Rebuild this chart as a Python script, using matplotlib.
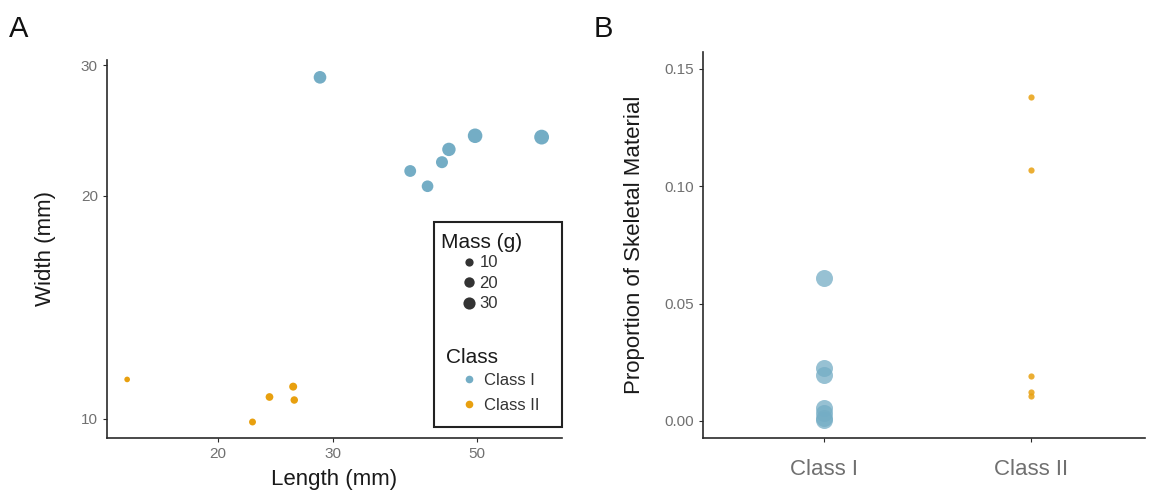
import matplotlib.pyplot as plt
import matplotlib.ticker as mticker
from matplotlib.lines import Line2D
from matplotlib.patches import Rectangle
import numpy as np

plt.rcParams['font.family'] = ['Liberation Sans', 'DejaVu Sans']

# panel A data
c1_length = [28.7, 39.5, 42.0, 44.2, 45.3, 49.7, 62.9]
c1_width = [28.9, 21.6, 20.6, 22.2, 23.1, 24.1, 24.0]
c1_mass = [33, 28, 27, 29, 38, 46, 48]
c2_length = [14.5, 22.6, 24.0, 26.1, 26.2]
c2_width = [11.3, 9.9, 10.7, 11.05, 10.6]
c2_mass = [1, 5, 8, 9, 7]

# panel B data
classes = ['Class I', 'Class II']
c1_prop = [0.061, 0.0225, 0.0196, 0.0055, 0.0034, 0.0013, 0.0002]
c2_prop = [0.138, 0.107, 0.0192, 0.0125, 0.0105]

mass_breaks = [10, 20, 30]

blue = '#74ADC5'
orange = '#E8A00F'
tick_col = '#707070'
spine_col = '#2a2a2a'


def msize(m):
    # ggplot-like area scaling, in points^2
    return (28 + 4 * np.asarray(m, dtype=float)) / 1.93


fig = plt.figure(figsize=(11.49, 4.93), dpi=100)
axA = fig.add_axes([0.0931, 0.1116, 0.3960, 0.7667])
axB = fig.add_axes([0.6118, 0.1116, 0.3847, 0.7830])

for ax in (axA, axB):
    for s in ['top', 'right']:
        ax.spines[s].set_visible(False)
    for s in ['left', 'bottom']:
        ax.spines[s].set_color(spine_col)
        ax.spines[s].set_linewidth(1.2)
    ax.tick_params(colors=spine_col, length=3, width=0.8, labelcolor=tick_col)

# ---- A ----
axA.scatter(c1_length, c1_width, s=msize(c1_mass), color=blue, linewidths=0, zorder=3)
axA.scatter(c2_length, c2_width, s=msize(c2_mass), color=orange, linewidths=0, zorder=3)
axA.set_xscale('log')
axA.set_yscale('log')
axA.set_xlim(13.5, 67.6)
axA.set_ylim(9.42, 30.5)
axA.xaxis.set_major_locator(mticker.FixedLocator([20, 30, 50]))
axA.yaxis.set_major_locator(mticker.FixedLocator([10, 20, 30]))
axA.xaxis.set_minor_locator(mticker.NullLocator())
axA.yaxis.set_minor_locator(mticker.NullLocator())
axA.xaxis.set_major_formatter(mticker.FormatStrFormatter('%d'))
axA.yaxis.set_major_formatter(mticker.FormatStrFormatter('%d'))
axA.tick_params(labelsize=11)
axA.set_xlabel('Length (mm)', fontsize=16, color='#1a1a1a', labelpad=6)
axA.set_ylabel('Width (mm)', fontsize=16, color='#1a1a1a', labelpad=18)

# legend (two blocks inside one frame)
mass_handles = [Line2D([], [], ls='', marker='o', color='#333333',
                       markersize=np.sqrt(msize(m)), markeredgewidth=0)
                for m in mass_breaks]
leg1 = axA.legend(mass_handles, [str(m) for m in mass_breaks],
                  loc='upper left', bbox_to_anchor=(0.778, 0.483),
                  frameon=False, fontsize=12, borderpad=0, borderaxespad=0,
                  handlelength=1.0, handletextpad=0.1, labelspacing=0.33,
                  labelcolor='#333333')
axA.add_artist(leg1)
class_handles = [Line2D([], [], ls='', marker='o', color=c, markersize=5.5,
                        markeredgewidth=0) for c in (blue, orange)]
leg2 = axA.legend(class_handles, classes, loc='upper left',
                  bbox_to_anchor=(0.778, 0.173), frameon=False, fontsize=12,
                  borderpad=0, borderaxespad=0, handlelength=1.0,
                  handletextpad=0.4, labelspacing=0.63, labelcolor='#333333')
axA.text(0.734, 0.516, 'Mass (g)', transform=axA.transAxes, fontsize=15,
         va='center', ha='left', color='#1a1a1a')
axA.text(0.746, 0.214, 'Class', transform=axA.transAxes, fontsize=15,
         va='center', ha='left', color='#1a1a1a')
axA.add_patch(Rectangle((0.7187, 0.029), 0.281, 0.542, transform=axA.transAxes,
                        fill=False, edgecolor='#222222', linewidth=1.5,
                        clip_on=False, zorder=5))

# ---- B ----
axB.scatter(np.zeros(len(c1_prop)), c1_prop, s=150, color=blue, alpha=0.75,
            linewidths=0, zorder=3)
axB.scatter(np.ones(len(c2_prop)), c2_prop, s=20, color=orange, alpha=0.85,
            linewidths=0, zorder=3)
axB.set_xlim(-0.585, 1.551)
axB.set_ylim(-0.0073, 0.1572)
axB.set_xticks([0, 1])
axB.set_xticklabels(classes)
axB.set_yticks([0.0, 0.05, 0.10, 0.15])
axB.yaxis.set_major_formatter(mticker.FormatStrFormatter('%.2f'))
axB.tick_params(axis='y', labelsize=11)
axB.tick_params(axis='x', labelsize=16, pad=12)
axB.set_ylabel('Proportion of Skeletal Material', fontsize=16, color='#1a1a1a',
               labelpad=14)

fig.text(0.008, 0.925, 'A', fontsize=21, color='#111111')
fig.text(0.517, 0.925, 'B', fontsize=21, color='#111111')

fig.savefig('out.png', dpi=100)
